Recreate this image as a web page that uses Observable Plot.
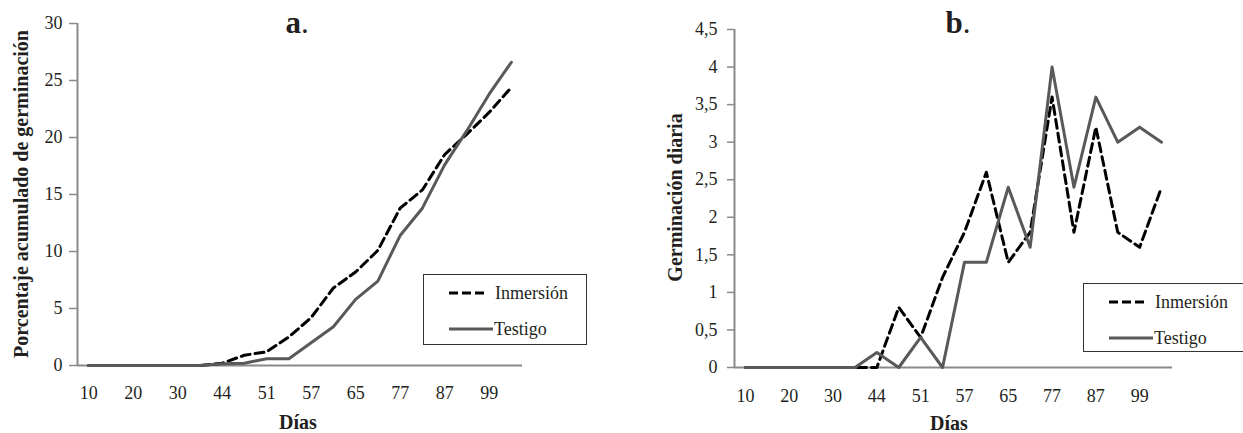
<!DOCTYPE html>
<html><head><meta charset="utf-8">
<script src="https://cdn.jsdelivr.net/npm/d3@7"></script>
<script src="https://cdn.jsdelivr.net/npm/@observablehq/plot@0.6"></script>
<style>
body{margin:0;background:#fff;}
#wrap{position:relative;width:1243px;height:433px;overflow:hidden;background:#fff;}
#wrap svg, #wrap svg text{font-family:"Liberation Serif","Times New Roman","DejaVu Serif",serif !important;}
#wrap svg g[aria-label$="tick label"] text{font-size:18px !important;fill:#231f20;}
.panel{position:absolute;top:0;}
.legend{position:absolute;}
</style></head><body><div id="wrap"></div>
<script>
// Categories (days); only every other one is labelled on the axis
const days = ["10","15","20","25","30","37","44","47","51","54","57","61","65","72","77","82","87","93","99","105"];
const labeledDays = ["10","20","30","44","51","57","65","77","87","99"];
const series = ["Inmersión","Testigo"];

// Panel a: porcentaje acumulado de germinación
const acumInmersion = [0,0,0,0,0,0,0.2,0.9,1.2,2.5,4.2,6.8,8.2,10.1,13.8,15.4,18.5,20.3,22.2,24.4];
const acumTestigo   = [0,0,0,0,0,0,0.15,0.2,0.6,0.6,2.0,3.4,5.8,7.4,11.4,13.8,17.6,20.6,23.8,26.6];
const ticksA = [0,5,10,15,20,25,30];

// Panel b: germinación diaria
const diariaInmersion = [0,0,0,0,0,0,0,0.8,0.4,1.2,1.8,2.6,1.4,1.8,3.6,1.8,3.2,1.8,1.6,2.4];
const diariaTestigo   = [0,0,0,0,0,0,0.2,0,0.4,0,1.4,1.4,2.4,1.6,4.0,2.4,3.6,3.0,3.2,3.0];
const ticksB = [0,0.5,1,1.5,2,2.5,3,3.5,4,4.5];

const AXIS = "#8a8a8a";
const TXT = "#231f20";
const GRAY = "#595959";
const FONT = "Liberation Serif, Times New Roman, serif";

function rows(vals){ return days.map((d,i)=>({i, day:d, v: vals[i]})); }

function makePanel(o){
  const labeledIdx = labeledDays.map(d => days.indexOf(d));
  return Plot.plot({
    width: o.width, height: 433,
    marginLeft: o.ml, marginRight: o.mr, marginTop: o.mt, marginBottom: o.mb,
    style: {fontFamily: FONT, fontSize: "18px", color: TXT, background: "transparent", overflow: "visible"},
    x: {domain: [-0.5, days.length - 0.5]},
    y: {domain: o.yDomain},
    marks: [
      Plot.axisY({ticks: o.yTicks, tickFormat: o.yFormat, tickSize: o.tickSize, tickPadding: o.tickPad, stroke: AXIS, strokeWidth: 1.5, fill: TXT, label: null}),
      Plot.axisX({ticks: labeledIdx, tickFormat: i => days[i], tickSize: 0, tickPadding: o.xPad, fill: TXT, label: null}),
      Plot.ruleX([-0.5], {stroke: AXIS, strokeWidth: 2}),
      Plot.ruleY([0], {stroke: AXIS, strokeWidth: 2}),
      Plot.line(rows(o.inm), {x: "i", y: "v", stroke: "#000", strokeWidth: 3, strokeDasharray: "9,5"}),
      Plot.line(rows(o.tes), {x: "i", y: "v", stroke: GRAY, strokeWidth: 3})
    ]
  });
}

const wrap = document.getElementById("wrap");
const fmtComma = d => String(d).replace(".", ",");

const a = makePanel({width: 600, ml: 77, mr: 78, mt: 23, mb: 68, yDomain: [0,30], yTicks: ticksA, yFormat: d => String(d), tickSize: 8, tickPad: 7, xPad: 21, inm: acumInmersion, tes: acumTestigo});
a.classList.add("panel"); a.style.left = "0px";
wrap.appendChild(a);

const b = makePanel({width: 603, ml: 94, mr: 71, mt: 29, mb: 66, yDomain: [0,4.5], yTicks: ticksB, yFormat: fmtComma, tickSize: 7, tickPad: 10, xPad: 22, inm: diariaInmersion, tes: diariaTestigo});
b.classList.add("panel"); b.style.left = "640px";
wrap.appendChild(b);

function addText(svg, {x, y, text, size, weight, rotate, anchor}){
  return d3.select(svg).append("text")
    .attr("transform", `translate(${x},${y})` + (rotate ? ` rotate(${rotate})` : ""))
    .attr("text-anchor", anchor || "middle")
    .attr("font-size", size)
    .attr("font-weight", weight || "normal")
    .attr("fill", TXT)
    .text(text);
}

// Axis titles
addText(a, {x: 27.5, y: 194, text: "Porcentaje acumulado de germinación", size: 20, weight: "bold", rotate: -90});
addText(a, {x: 298, y: 429, text: "Días", size: 20, weight: "bold"});
addText(b, {x: 41.5, y: 197.5, text: "Germinación diaria", size: 20, weight: "bold", rotate: -90});
addText(b, {x: 309, y: 430, text: "Días", size: 20, weight: "bold"});

// Panel titles
function addTitle(svg, x, letter){
  const t = d3.select(svg).append("text").attr("x", x).attr("y", 33)
    .attr("font-size", 31).attr("fill", TXT);
  t.append("tspan").attr("font-weight", "bold").text(letter);
  t.append("tspan").text(".");
}
addTitle(a, 297, "a");
addTitle(b, 318, "b");

// Legends
function addLegend(left, top, w, h){
  const svg = d3.select(wrap).append("svg").attr("class", "legend")
    .style("left", left + "px").style("top", top + "px")
    .attr("width", w).attr("height", h);
  svg.append("rect").attr("x", 0.5).attr("y", 0.5).attr("width", w - 1).attr("height", h - 1)
    .attr("fill", "#fff").attr("stroke", "#333").attr("stroke-width", 1);
  const items = [
    {name: series[0], stroke: "#000", dash: "9,4", y: 19, x2: 65, tx: 72},
    {name: series[1], stroke: GRAY, dash: null, y: 55, x2: 70, tx: 71}
  ];
  items.forEach(it => {
    svg.append("line").attr("x1", 26).attr("x2", it.x2).attr("y1", it.y).attr("y2", it.y)
      .attr("stroke", it.stroke).attr("stroke-width", 3).attr("stroke-dasharray", it.dash);
    svg.append("text").attr("x", it.tx).attr("y", it.y + 6)
      .attr("font-size", 18).attr("fill", TXT).text(it.name);
  });
}
addLegend(423, 274, 164, 71);
addLegend(1083, 283, 162, 69);
</script>
</body></html>
